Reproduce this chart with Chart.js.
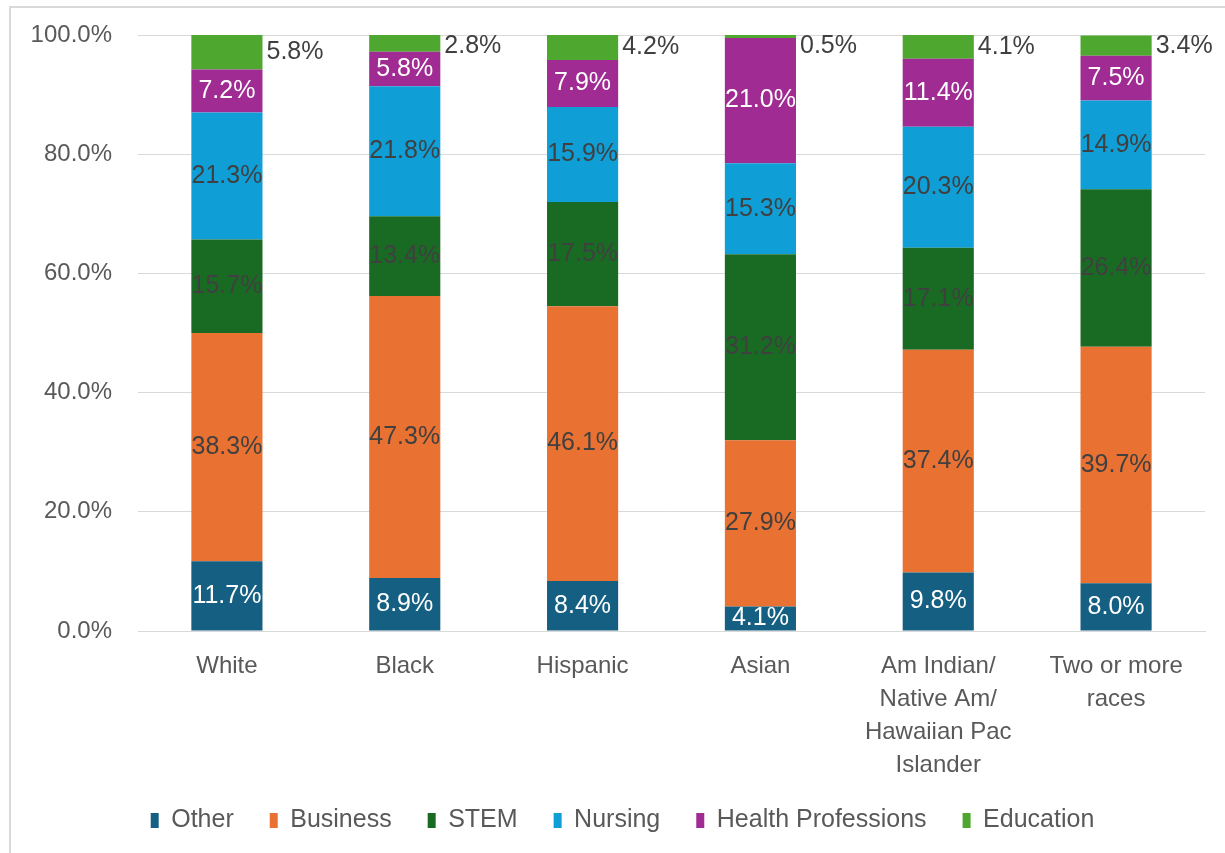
<!DOCTYPE html>
<html lang="en">
<head>
<meta charset="UTF-8">
<title>Field of study by race/ethnicity</title>
<script src="https://cdn.jsdelivr.net/npm/chart.js"></script>
<style>
  body { margin: 0; background: #fff; }
  #frame { position: absolute; left: 9px; top: 6px; width: 1240px; height: 900px;
           border: 2px solid #d9d9d9; box-sizing: border-box; }
  #wrap { position: absolute; left: 0; top: 0; width: 1225px; height: 853px; }
</style>
</head>
<body>
<div id="frame"></div>
<div id="wrap"><canvas id="stackChart"></canvas></div>

<script>
// categories (multi-line labels as arrays)
const categories = ['White', 'Black', 'Hispanic', 'Asian',
  ['Am Indian/', 'Native Am/', 'Hawaiian Pac', 'Islander'],
  ['Two or more', 'races']];

// share of students in each field, percent
const other      = [11.7, 8.9, 8.4, 4.1, 9.8, 8.0];
const business   = [38.3, 47.3, 46.1, 27.9, 37.4, 39.7];
const stem       = [15.7, 13.4, 17.5, 31.2, 17.1, 26.4];
const nursing    = [21.3, 21.8, 15.9, 15.3, 20.3, 14.9];
const healthProf = [7.2, 5.8, 7.9, 21.0, 11.4, 7.5];
const education  = [5.8, 2.8, 4.2, 0.5, 4.1, 3.4];

const yTicks = [0, 20, 40, 60, 80, 100];

const FONT = '"Liberation Sans", Arial, sans-serif';

// draw the value labels on the segments
const barLabels = {
  id: 'barLabels',
  afterLayout(chart) {
    // nudge the legend up a bit, like the excel original
    const lg = chart.legend;
    lg.top -= 10; lg.bottom -= 10;
    lg.left += 20; lg.right += 20;
  },
  afterDatasetsDraw(chart) {
    const ctx = chart.ctx;
    ctx.save();
    ctx.font = '25px ' + FONT;
    ctx.textBaseline = 'middle';
    chart.data.datasets.forEach((ds, i) => {
      const meta = chart.getDatasetMeta(i);
      meta.data.forEach((bar, j) => {
        const txt = ds.data[j].toFixed(1) + '%';
        const p = bar.getProps(['x', 'y', 'base', 'width'], true);
        let cy = (p.y + p.base) / 2;
        if (ds.labelOutside) {
          ctx.textAlign = 'left';
          ctx.fillStyle = '#404040';
          ctx.fillText(txt, p.x + p.width / 2 + 4, Math.max(cy, p.y + 11));
        } else {
          ctx.textAlign = 'center';
          ctx.fillStyle = ds.labelColor;
          ctx.fillText(txt, p.x, cy);
        }
      });
    });
    ctx.restore();
  }
};

const ctx = document.getElementById('stackChart').getContext('2d');

new Chart(ctx, {
  type: 'bar',
  data: {
    labels: categories,
    datasets: [
      { label: 'Other', data: other, backgroundColor: '#156082', labelColor: '#ffffff' },
      { label: 'Business', data: business, backgroundColor: '#E97132', labelColor: '#404040' },
      { label: 'STEM', data: stem, backgroundColor: '#196B24', labelColor: '#404040' },
      { label: 'Nursing', data: nursing, backgroundColor: '#0F9ED5', labelColor: '#404040' },
      { label: 'Health Professions', data: healthProf, backgroundColor: '#A02B93', labelColor: '#ffffff' },
      { label: 'Education', data: education, backgroundColor: '#4EA72E', labelOutside: true }
    ]
  },
  options: {
    responsive: true,
    maintainAspectRatio: false,
    animation: false,
    datasets: { bar: { barPercentage: 0.4, categoryPercentage: 1.0 } },
    layout: { padding: { top: 35, right: 20, left: 0, bottom: 0 } },
    plugins: {
      tooltip: { enabled: false },
      legend: {
        position: 'bottom',
        labels: {
          boxWidth: 8, boxHeight: 15, padding: 36,
          color: '#595959',
          font: { family: FONT, size: 25 }
        }
      }
    },
    scales: {
      x: {
        stacked: true,
        grid: { display: false, drawTicks: false },
        border: { color: '#d9d9d9', width: 1 },
        ticks: { color: '#595959', padding: 19, maxRotation: 0, autoSkip: false,
                 font: { family: FONT, size: 24, lineHeight: 1.37 } },
        afterFit(scale) { scale.height = 151; }
      },
      y: {
        stacked: true,
        min: 0, max: 100,
        afterBuildTicks(scale) { scale.ticks = yTicks.map(v => ({ value: v })); },
        grid: { color: '#d9d9d9', drawTicks: false },
        border: { display: false },
        ticks: { color: '#595959', padding: 26,
                 font: { family: FONT, size: 24 },
                 callback: v => v.toFixed(1) + '%' },
        afterFit(scale) {
          scale.width = 138;
          scale.paddingTop = 0;
          scale.paddingBottom = 0;
        }
      }
    }
  },
  plugins: [barLabels]
});
</script>
</body>
</html>
